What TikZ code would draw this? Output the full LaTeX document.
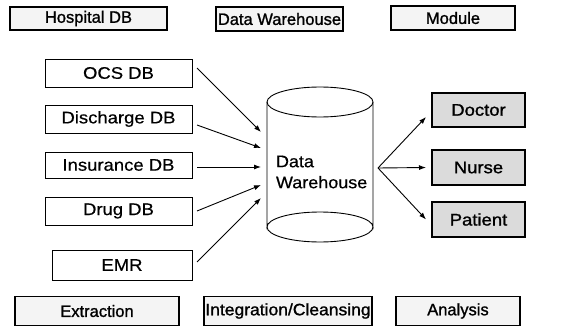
\documentclass[tikz,border=0pt]{standalone}
\usepackage{fontspec}
\usepackage{graphicx}
\setmainfont{Liberation Sans}
\newfontfamily\headfont{Liberation Sans}[FakeBold=1.2]
\newfontfamily\plainfont{Liberation Sans}[FakeBold=0.5]
\usetikzlibrary{arrows.meta}
\newcommand{\widetext}[1]{\scalebox{1.1}[1]{#1}}
\tikzset{
  x=1pt, y=-1pt,
  every node/.style={inner sep=0pt, outer sep=0pt},
  labelbox/.style={draw=black, line width=1.1pt, fill=gray!9,
    font=\headfont\fontsize{16.5}{19}\selectfont},
  srcbox/.style={draw=black, line width=0.9pt, fill=white,
    minimum width=147pt, minimum height=28pt,
    font=\plainfont\fontsize{16.8}{19}\selectfont},
  userbox/.style={draw=black, line width=1.1pt, fill=gray!28,
    minimum width=93pt, minimum height=35pt,
    font=\headfont\fontsize{16.8}{19}\selectfont},
  arr/.style={line width=0.9pt, -{Latex[length=7pt,width=5pt]}},
}
\begin{document}
\begin{tikzpicture}
\useasboundingbox (0,0) rectangle (577,326);

% column headings
\node[labelbox, minimum width=157pt, minimum height=23pt] (hosp) at (88.5,18.5) {Hospital DB};
\node[labelbox, minimum width=127pt, minimum height=24pt] (dwh)  at (279.5,19) {Data Warehouse};
\node[labelbox, minimum width=124pt, minimum height=24pt] (mod)  at (453,18) {Module};

% stage labels
\node[labelbox, minimum width=164pt, minimum height=29pt] (ext) at (97,311) {Extraction};
\node[labelbox, minimum width=168pt, minimum height=29pt] (int) at (288,311) {\scalebox{1.06}[1]{Integration/Cleansing}};
\node[labelbox, minimum width=124pt, minimum height=29pt] (ana) at (458,311) {Analysis};

% source databases
\node[srcbox] (ocs)  at (118.5,73)  {\widetext{OCS DB}};
\node[srcbox] (dis)  at (118.5,119) {\widetext{Discharge DB}};
\node[srcbox, minimum height=26pt] (ins) at (118.5,165) {\widetext{Insurance DB}};
\node[srcbox] (drug) at (118.5,211) {\widetext{Drug DB}};
\node[srcbox, minimum width=140pt, minimum height=30pt] (emr) at (122,265) {\widetext{EMR}};

% data warehouse cylinder
\node[minimum width=106pt, minimum height=156pt] (dw) at (320,165) {};
\draw[line width=0.9pt, fill=white] (267,102) -- (267,227)
  arc[start angle=180, end angle=360, x radius=53, y radius=15]
  -- (373,102);
\draw[line width=0.9pt] (320,102) ellipse[x radius=53, y radius=15];
\draw[line width=0.9pt] (267,227) arc[start angle=180, end angle=0, x radius=53, y radius=15];
\node[anchor=west, align=left, font=\plainfont\fontsize{16.8}{21}\selectfont] (dwtext) at (276,172)
  {\scalebox{1.07}[1]{Data}\\\scalebox{1.07}[1]{Warehouse}};

% user modules
\node[userbox, minimum height=34pt] (doc) at (478.5,110) {\widetext{Doctor}};
\node[userbox] (nur) at (478.5,167.5) {\widetext{Nurse}};
\node[userbox] (pat) at (478.5,219.5) {\widetext{Patient}};

% arrow end points on the cylinder
\coordinate (in1) at (261,132);
\coordinate (in2) at (261,148);
\coordinate (in3) at (261,167);
\coordinate (in4) at (261,185);
\coordinate (in5) at (261,198);
\coordinate (hub) at (378,168);

\draw[arr] ([xshift=5pt,yshift=5pt]ocs.east) -- (in1);
\draw[arr] ([xshift=5pt,yshift=-6pt]dis.east) -- (in2);
\draw[arr] ([xshift=5pt,yshift=-2pt]ins.east) -- (in3);
\draw[arr] ([xshift=5pt]drug.east) -- (in4);
\draw[arr] ([xshift=5pt,yshift=3pt]emr.east) -- (in5);

\draw[arr] (hub) -- ([xshift=-6pt,yshift=-7pt]doc.west);
\draw[arr] (hub) -- ([xshift=-6pt]nur.west);
\draw[arr] (hub) -- ([xshift=-6pt]pat.west);
\end{tikzpicture}
\end{document}
